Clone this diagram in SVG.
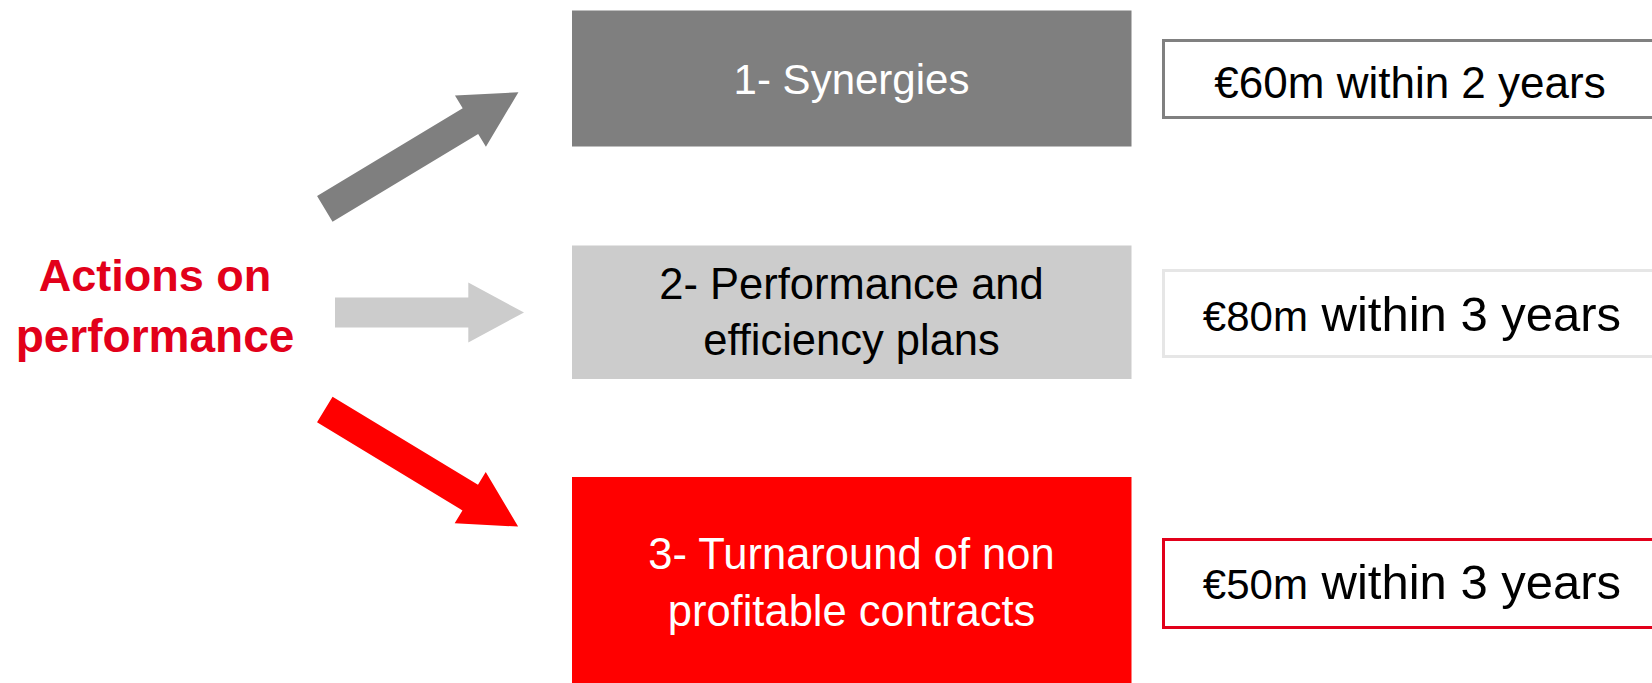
<svg xmlns="http://www.w3.org/2000/svg" width="1652" height="683" viewBox="0 0 1652 683">
<style>
text{font-family:"Liberation Sans",Arial,sans-serif}
.box-t{font-size:42px;text-anchor:middle}
.box-l{font-size:43.5px;text-anchor:middle}
.val{font-size:44px;text-anchor:middle;fill:#000}
.vbox{fill:#fff;stroke-width:3}
</style>
<rect width="1652" height="683" fill="#fff"/>
<g id="label-actions">
<text x="155" y="291" font-size="45" font-weight="bold" fill="#e2001a" text-anchor="middle">Actions on</text>
<text x="155" y="352" font-size="46" font-weight="bold" fill="#e2001a" text-anchor="middle">performance</text>
</g>
<g id="connectors">
<path transform="translate(324.8,208.8) rotate(-31.05)" d="M0,-15 L170,-15 L170,-30 L226,0 L170,30 L170,15 L0,15 Z" fill="#7f7f7f"/>
<path transform="translate(335,312.5)" d="M0,-15 L133.3,-15 L133.3,-30 L189,0 L133.3,30 L133.3,15 L0,15 Z" fill="#cccccc"/>
<path transform="translate(324.8,409.5) rotate(31.2)" d="M0,-15 L170,-15 L170,-30 L226,0 L170,30 L170,15 L0,15 Z" fill="#ff0000"/>
</g>
<g id="node-synergies">
<rect x="572" y="10.5" width="559.5" height="136" fill="#7f7f7f"/>
<text class="box-t" x="851.5" y="94" fill="#fff">1- Synergies</text>
</g>
<g id="node-performance">
<rect x="572" y="245.5" width="559.5" height="133.5" fill="#cccccc"/>
<text class="box-l" x="851.5" y="299" fill="#000">2- Performance and</text>
<text class="box-l" x="851.5" y="355" fill="#000">efficiency plans</text>
</g>
<g id="node-turnaround">
<rect x="572" y="477" width="559.5" height="206" fill="#ff0000"/>
<text class="box-l" x="851.5" y="569" fill="#fff" font-size="44">3- Turnaround of non</text>
<text class="box-l" x="851.5" y="626" fill="#fff" font-size="44">profitable contracts</text>
</g>
<g id="value-1">
<rect class="vbox" x="1163.5" y="40.5" width="500" height="77" stroke="#808080"/>
<text class="val" x="1410" y="98">€60m within 2 years</text>
</g>
<g id="value-2">
<rect class="vbox" x="1163.5" y="270.5" width="500" height="86" stroke="#e6e6e6"/>
<text class="val" x="1412" y="331"><tspan font-size="42">€80m</tspan><tspan font-size="49"> within 3 years</tspan></text>
</g>
<g id="value-3">
<rect class="vbox" x="1163.5" y="539.5" width="500" height="88" stroke="#e2001a"/>
<text class="val" x="1412" y="599"><tspan font-size="42">€50m</tspan><tspan font-size="49"> within 3 years</tspan></text>
</g>
</svg>
